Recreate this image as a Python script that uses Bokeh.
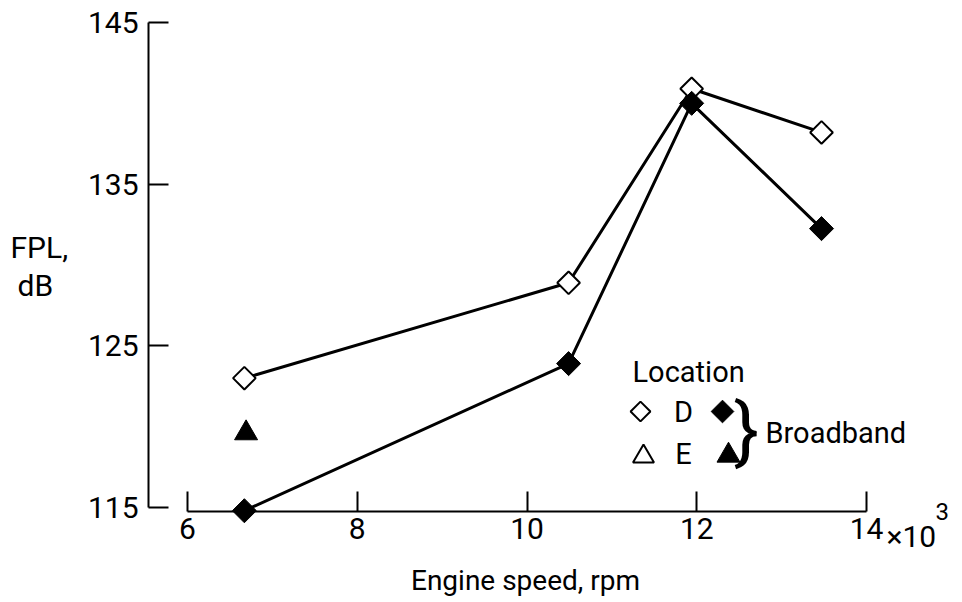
import math
from bokeh.plotting import figure
from bokeh.models import Range1d, FixedTicker, Label
from bokeh.embed import file_html
from bokeh.resources import INLINE

# ---- data ----
speed_D = [6.67, 10.49, 11.94, 13.47]            # engine speed, x10^3 rpm
fpl_D_open = [123.0, 128.9, 140.9, 138.2]        # location D, open symbols
fpl_D_broadband = [114.8, 123.9, 140.0, 132.25]  # location D, broadband
speed_E = [6.69]
fpl_E_broadband = [119.6]                        # location E, broadband
y_ticks = [115, 125, 135, 145]
x_ticks = [6, 8, 10, 12, 14]
x_tick_labels = ["6", "8", "10", "12", "14"]

FONT = "Roboto"
W, H = 960, 600

# page-pixel -> data helpers (layout only: the frame fills the whole canvas)
def X(px):
    return 6 + (px - 187) / 84.875

def Y(py):
    return 115 + (507 - py) / 16.167

p = figure(width=W, height=H,
           x_range=Range1d(X(0), X(W)), y_range=Range1d(Y(H), Y(0)),
           output_backend="svg", toolbar_location=None,
           min_border=0, min_border_left=0, min_border_right=0,
           min_border_top=0, min_border_bottom=0)
p.grid.visible = False
p.outline_line_color = None
p.background_fill_color = "white"
p.border_fill_color = "white"

xa = p.xaxis[0]
xa.fixed_location = Y(511)
xa.bounds = (6, 14)
xa.ticker = FixedTicker(ticks=x_ticks)
xa.major_label_overrides = {t: l for t, l in zip(x_ticks, x_tick_labels)}
xa.major_tick_in = 20
xa.major_tick_out = 0
xa.minor_tick_in = 0
xa.minor_tick_out = 0
xa.axis_line_width = 2
xa.major_tick_line_width = 2
xa.major_label_standoff = 6
xa.major_label_text_font = FONT
xa.major_label_text_font_size = "30px"
xa.major_label_text_color = "black"

ya = p.yaxis[0]
ya.fixed_location = X(148)
ya.bounds = (115, 145)
ya.ticker = FixedTicker(ticks=y_ticks)
ya.major_tick_in = 20
ya.major_tick_out = 0
ya.minor_tick_in = 0
ya.minor_tick_out = 0
ya.axis_line_width = 2
ya.major_tick_line_width = 2
ya.major_label_standoff = 10
ya.major_label_text_font = FONT
ya.major_label_text_font_size = "30px"
ya.major_label_text_color = "black"

# ---- data lines and markers ----
p.line(speed_D, fpl_D_open, line_color="black", line_width=3)
p.line(speed_D, fpl_D_broadband, line_color="black", line_width=3)
p.scatter(speed_D, fpl_D_open, marker="square", angle=math.pi / 4, size=16,
          fill_color="white", line_color="black", line_width=2)
p.scatter(speed_D, fpl_D_broadband, marker="square", angle=math.pi / 4, size=17,
          fill_color="black", line_color="black", line_width=1)
p.scatter(speed_E, fpl_E_broadband, marker="triangle", size=23,
          fill_color="black", line_color="black", line_width=1)

# ---- texts ----
def lab(text, px, py, size, align="left", baseline="middle"):
    p.add_layout(Label(x=X(px), y=Y(py), text=text, text_font=FONT,
                       text_font_size=f"{size}px", text_align=align,
                       text_baseline=baseline, text_color="black"))

lab("FPL,", 10, 247, 30)
lab("dB", 17, 285, 30)
lab("Engine speed, rpm", 525, 580, 28, align="center")
lab("\u00d710", 886, 536, 30)
lab("3", 935, 511, 24)

# ---- legend ----
lab("Location", 632, 371, 29)
lab("D", 683, 411, 29, align="center")
lab("E", 683, 453, 29, align="center")
lab("}", 746, 430, 74, align="center")
lab("Broadband", 765, 432, 29)
p.scatter([X(640)], [Y(411)], marker="square", angle=math.pi / 4, size=14,
          fill_color="white", line_color="black", line_width=2)
p.scatter([X(722)], [Y(411)], marker="square", angle=math.pi / 4, size=16,
          fill_color="black", line_color="black", line_width=1)
p.scatter([X(643)], [Y(456)], marker="triangle", size=21,
          fill_color="white", line_color="black", line_width=2)
p.scatter([X(728)], [Y(455)], marker="triangle", size=23,
          fill_color="black", line_color="black", line_width=1)

open("out.html", "w").write(file_html(p, INLINE))
